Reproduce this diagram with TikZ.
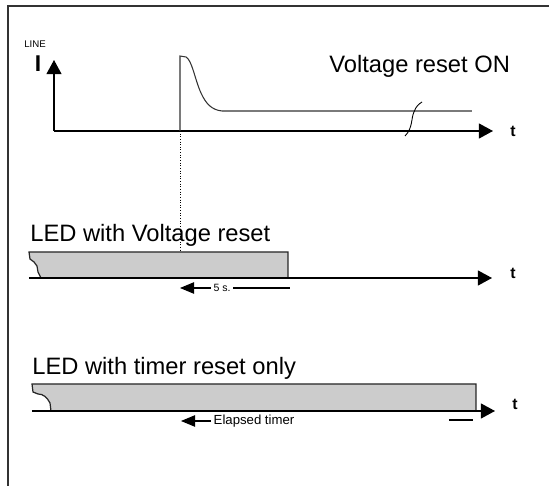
\documentclass[tikz,border=0pt]{standalone}
\usepackage{fontspec}
\setmainfont{Liberation Sans}
\usetikzlibrary{arrows.meta}

\begin{document}
\begin{tikzpicture}[
  x=0.02cm, y=-0.02cm,
  frame/.style={draw=black!80, line width=0.8pt},
  axis/.style={line width=0.7pt, -{Triangle[length=8pt, width=8.5pt]}},
  pointer/.style={line width=0.6pt, -{Triangle[length=8pt, width=6.5pt]}},
  trace/.style={line width=0.6pt, black!80},
  bar/.style={draw=black!85, fill=black!20, line width=0.7pt},
  big/.style={font=\fontsize{13.5}{16}\selectfont, inner sep=0pt, anchor=base west},
  tick/.style={font=\bfseries\fontsize{9}{10}\selectfont, inner sep=0pt},
  note/.style={font=\fontsize{6}{7}\selectfont, fill=white, inner sep=1.5pt}
]
\useasboundingbox (0,0) rectangle (549,486);

% frame
\coordinate (fr1) at (549,6);
\coordinate (fr2) at (8,6);
\coordinate (fr3) at (8,486);
\draw[frame] (fr1) -- (fr2) -- (fr3);

% line current
\coordinate (o1) at (54,131);
\coordinate (y1) at (54,60);
\coordinate (x1) at (493,131);
\draw[axis] (o1) -- (y1);
\draw[axis] (o1) -- (x1);
\node[font=\fontsize{5.5}{6}\selectfont, inner sep=0pt] (line) at (35,44) {LINE};
\node[font=\bfseries\fontsize{13}{14}\selectfont, inner sep=0pt] (cur) at (38,64) {I};
\node[tick] (t1) at (513,131) {t};
\node[big] (von) at (329,73) {Voltage reset ON};

\coordinate (s0) at (180,131);
\coordinate (s1) at (180,56);
\coordinate (s2) at (222,111);
\coordinate (s3) at (472,111);
\draw[trace] (s0) -- (s1) -- (186,57) .. controls (192,60) and (195,80) .. (201,93)
  .. controls (206,104) and (212,110) .. (s2) -- (s3);
\coordinate (b0) at (405,136);
\coordinate (b1) at (422,102);
\draw[line width=0.5pt] (b0) .. controls (413,128) and (411,118) .. (414,112)
  .. controls (416,106) and (419,104) .. (b1);

\coordinate (d1) at (180,252);
\draw[densely dotted, line width=0.5pt] (s0) -- (d1);

% LED with voltage reset
\node[big] (ledv) at (30,242) {LED with Voltage reset};
\draw[bar] (29,252) -- (288,252) -- (288,278) -- (41,278) -- (38,272) -- (37,266)
  -- (34,262) -- (30,259) -- cycle;
\coordinate (o2) at (29,278);
\coordinate (x2) at (492,278);
\draw[axis] (o2) -- (x2);
\node[tick] (t2) at (513,273) {t};

\node[note] (five) at (222,288) {5 s.};
\coordinate (f0) at (180,288);
\coordinate (f1) at (290,288);
\draw[pointer] (five) -- (f0);
\draw[line width=0.6pt] (five) -- (f1);

% LED with timer reset only
\node[big] (ledt) at (32,375) {LED with timer reset only};
\draw[bar] (32,384) -- (476,384) -- (476,411) -- (51,411) -- (50,403)
  .. controls (47,397) and (43,394) .. (38,394) -- (33,392) -- cycle;
\coordinate (o3) at (32,411);
\coordinate (x3) at (495,411);
\draw[axis] (o3) -- (x3);
\node[tick] (t3) at (515,404) {t};

\node[note, font=\fontsize{7.5}{8}\selectfont] (elapsed) at (254,421) {Elapsed timer};
\coordinate (e0) at (181,421);
\draw[pointer] (elapsed) -- (e0);
\coordinate (e1) at (449,420);
\coordinate (e2) at (473,420);
\draw[line width=0.6pt] (e1) -- (e2);
\end{tikzpicture}
\end{document}
